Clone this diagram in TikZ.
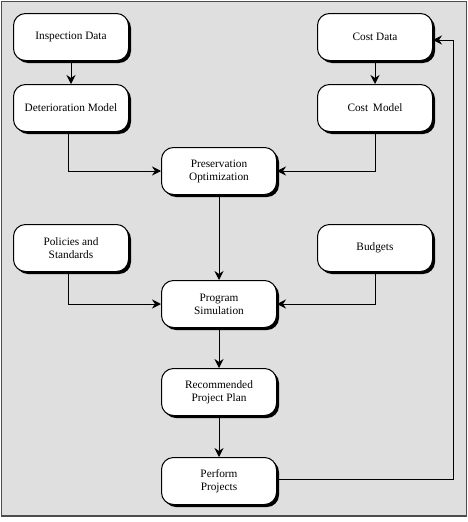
\documentclass[tikz,border=0pt]{standalone}
\usepackage{fontspec}
\setmainfont{Liberation Serif}
\usetikzlibrary{arrows.meta,shadows}
\begin{document}
\begin{tikzpicture}[x=1pt,y=-1pt,
    box/.style={draw, line width=1pt, fill=white, rounded corners=12pt,
        minimum width=115pt, minimum height=47pt, align=center,
        font=\fontsize{11.3}{13}\selectfont,
        drop shadow={shadow xshift=2.5pt, shadow yshift=-2.5pt, fill=black, opacity=1}},
    link/.style={line width=0.9pt, -{Stealth[length=9pt,width=9pt,inset=3pt]}}]
    \def\colL{71}
    \def\colM{219}
    \def\colR{375}
    \useasboundingbox (0,0) rectangle (468,522);
    \draw[fill=gray!25, draw=black!70, line width=1.5pt] (1.5,1.5) rectangle (466.5,516);
    % inputs
    \node[box] (insp) at (\colL,37) {Inspection Data};
    \node[box] (detm) at (\colL,108) {Deterioration Model};
    \node[box] (cdat) at (\colR,37) {Cost Data};
    \node[box] (cmod) at (\colR,108) {Cost\, Model};
    \node[box] (pres) at (\colM,171) {Preservation\\Optimization};
    \node[box] (poli) at (\colL,248) {Policies and\\Standards};
    \node[box] (budg) at (\colR,248) {Budgets};
    \node[box] (prog) at (\colM,304) {Program\\Simulation};
    \node[box] (reco) at (\colM,392) {Recommended\\Project Plan};
    \node[box] (perf) at (\colM,481) {Perform\\Projects};
    % connectors
    \draw[link] (insp) -- (detm);
    \draw[link] (cdat) -- (cmod);
    \draw[link] (detm.south -| 68,0) |- (pres.west);
    \draw[link] (cmod.south) |- (pres.east);
    \draw[link] (pres) -- (prog);
    \draw[link] (poli.south -| 68,0) |- (prog.west);
    \draw[link] (budg.south) |- (prog.east);
    \draw[link] (prog) -- (reco);
    \draw[link] (reco) -- (perf);
    % feedback
    \coordinate (back) at (453,479);
    \draw[link] (perf.east |- back) -- (back) |- ([yshift=-3pt]cdat.east);
\end{tikzpicture}
\end{document}
